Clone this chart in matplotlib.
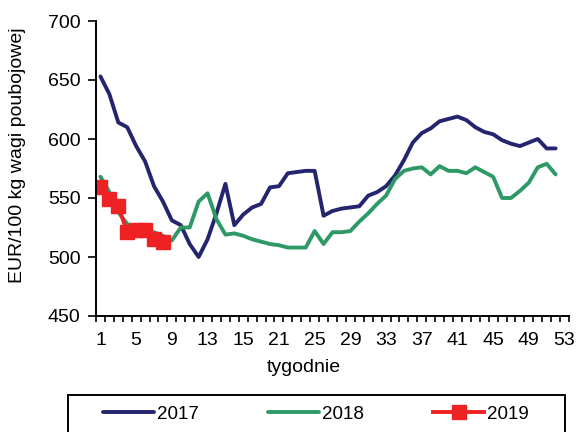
import matplotlib
matplotlib.use("Agg")
import matplotlib.pyplot as plt
import numpy as np
from matplotlib.patches import Rectangle

plt.rcParams['font.family'] = ['Liberation Sans', 'DejaVu Sans']

weeks = list(range(1, 53))
y2017 = [653, 638, 614, 610, 594, 581, 560, 547, 531, 527,
         511, 500, 515, 537, 562, 527, 536, 542, 545, 559,
         560, 571, 572, 573, 573, 535, 539, 541, 542, 543,
         552, 555, 560, 569, 582, 597, 605, 609, 615, 617,
         619, 616, 610, 606, 604, 599, 596, 594, 597, 600,
         592, 592]
y2018 = [568, 555, 538, 528, 524, 522, 521, 518, 514, 525,
         525, 547, 554, 532, 519, 520, 518, 515, 513, 511,
         510, 508, 508, 508, 522, 511, 521, 521, 522, 530,
         537, 545, 552, 566, 573, 575, 576, 570, 577, 573,
         573, 571, 576, 572, 568, 550, 550, 556, 563, 576,
         579, 570]
weeks2019 = [1, 2, 3, 4, 5, 6, 7, 8]
y2019 = [559, 549, 543, 521, 523, 523, 515, 513]

tick_pos = [1, 5, 9, 13, 17, 21, 25, 29, 33, 37, 41, 45, 49, 53]
tick_labels = ['1', '5', '9', '13', '15', '21', '25', '29', '33', '37', '41', '45', '49', '53']

W, H = 577, 432
fig = plt.figure(figsize=(W / 100, H / 100), dpi=100)
ax = fig.add_axes([96 / W, 1 - 316 / H, (569 - 96) / W, (316 - 21) / H])

c17 = '#25256f'
c18 = '#2e9966'
c19 = '#ee2222'
ax.plot(weeks, y2017, color=c17, lw=2.8, label='2017', solid_capstyle='round', solid_joinstyle='round')
ax.plot(weeks, y2018, color=c18, lw=2.8, label='2018', solid_capstyle='round', solid_joinstyle='round')
ax.plot(weeks2019, y2019, color=c19, lw=2.8, marker='s', markersize=10, label='2019')

ax.set_xlim(0.5, 53.5)
ax.set_ylim(450, 700)
ax.set_yticks([450, 500, 550, 600, 650, 700])
ax.set_xticks(tick_pos)
ax.set_xticklabels(tick_labels)
ax.set_xticks(np.arange(0.5, 54, 1), minor=True)
ax.tick_params(axis='x', which='major', length=0, pad=11.5, labelsize=14)
ax.tick_params(axis='x', which='minor', length=4, width=1.2, direction='out')
ax.tick_params(axis='y', length=6, width=1.2, direction='out', labelsize=14, pad=5)
for s in ['top', 'right']:
    ax.spines[s].set_visible(False)
for s in ['left', 'bottom']:
    ax.spines[s].set_linewidth(1.4)

fig.text(304 / W, 1 - 367 / H, 'tygodnie', ha='center', va='center', fontsize=14)
fig.text(18 / W, 1 - 155 / H, 'EUR/100 kg wagi poubojowej', rotation=90, ha='center', va='center', fontsize=14)

rect = Rectangle((68 / W, -0.05), (565 - 68) / W, 0.05 + (1 - 395 / H), transform=fig.transFigure,
                 fill=False, edgecolor='black', lw=1.4, clip_on=False)
fig.patches.append(rect)

handles, labels = ax.get_legend_handles_labels()
leg = fig.legend(handles, labels, loc='center', ncol=3, frameon=False,
                 bbox_to_anchor=(316 / W, 1 - 414 / H), fontsize=13.5,
                 handlelength=2.72, handletextpad=0.16, columnspacing=3.68,
                 borderpad=0, borderaxespad=0)

fig.savefig('out.png', dpi=100)
